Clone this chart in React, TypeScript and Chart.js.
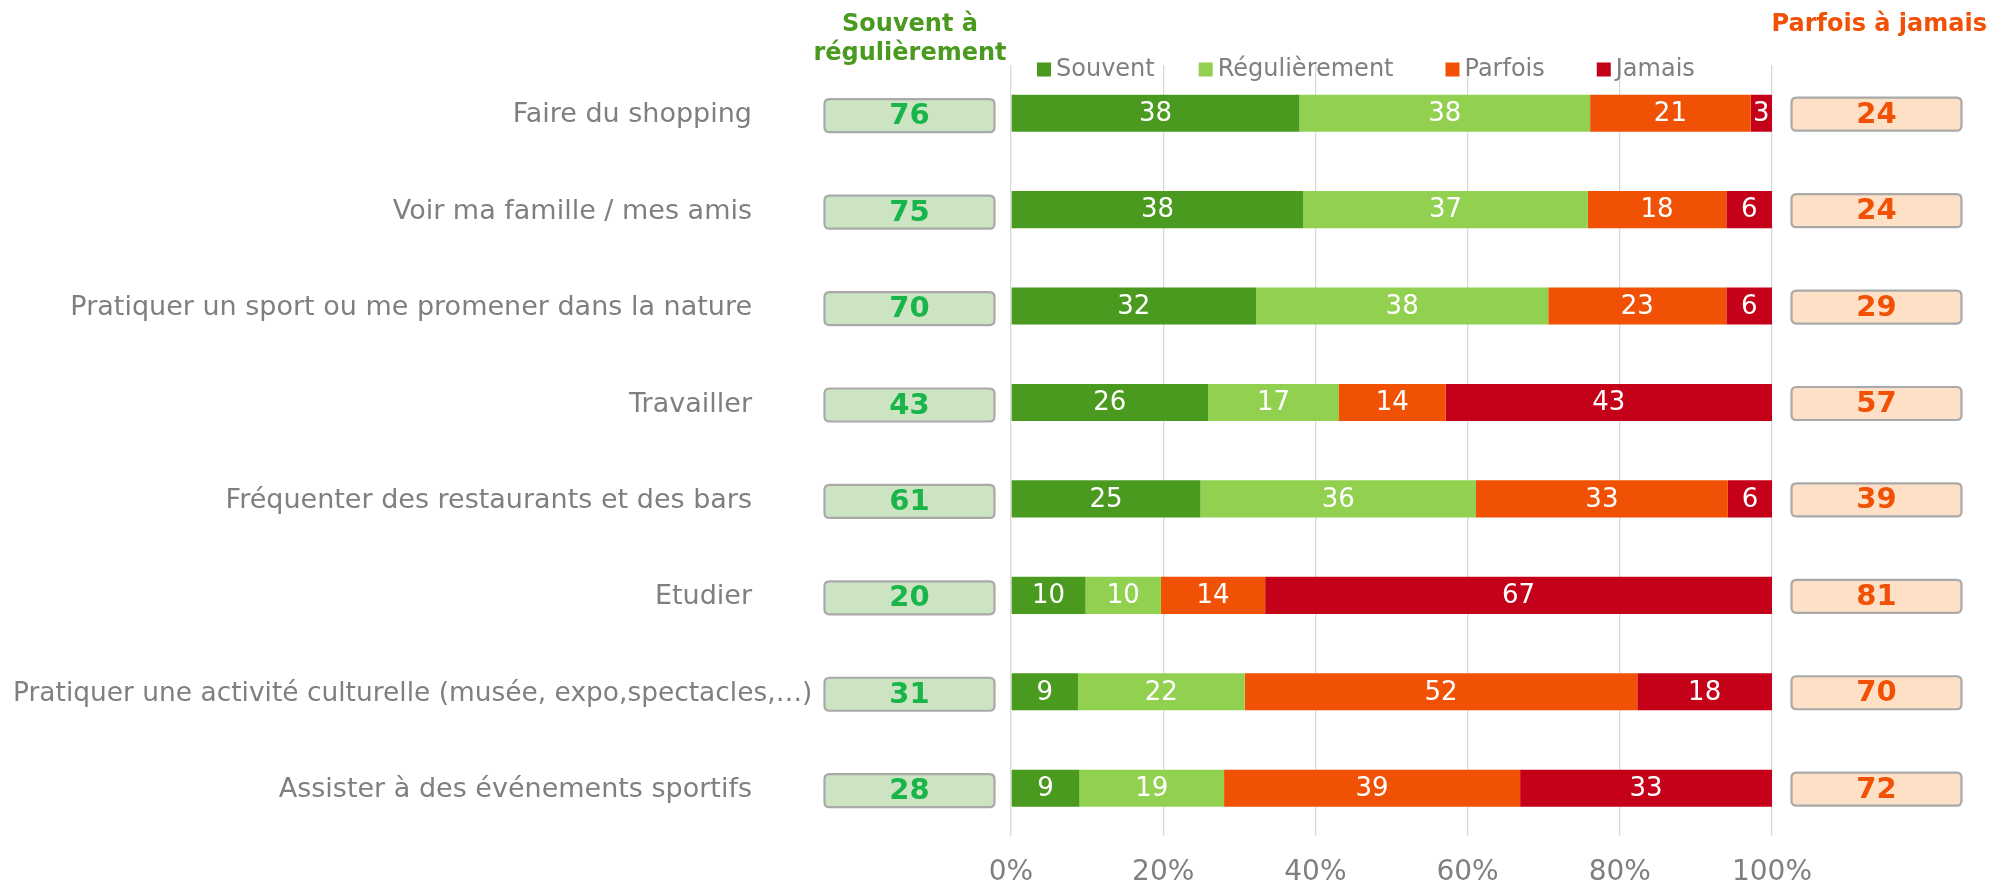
import React, { useEffect, useRef } from "react";
import { Chart, registerables } from "chart.js";

Chart.register(...registerables);

const categories = [
  "Faire du shopping",
  "Voir ma famille / mes amis",
  "Pratiquer un sport ou me promener dans la nature",
  "Travailler",
  "Fréquenter des restaurants et des bars",
  "Etudier",
  "Pratiquer une activité culturelle (musée, expo,spectacles,…)",
  "Assister à des événements sportifs",
];

const seriesNames = ["Souvent", "Régulièrement", "Parfois", "Jamais"];
const souvent = [37.9, 38.4, 32.2, 25.9, 24.9, 9.8, 8.8, 9.0];
const regulierement = [38.2, 37.4, 38.4, 17.2, 36.2, 9.9, 21.9, 19.0];
const parfois = [21.1, 18.2, 23.4, 14.0, 33.1, 13.7, 51.6, 38.9];
const jamais = [2.8, 6.0, 6.0, 42.9, 5.8, 66.6, 17.7, 33.1];

const souventARegulierement = [76, 75, 70, 43, 61, 20, 31, 28];
const parfoisAJamais = [24, 24, 29, 57, 39, 81, 70, 72];

const xTickLabels = ["0%", "20%", "40%", "60%", "80%", "100%"];

const titleLeft = ["Souvent à", "régulièrement"];
const titleRight = "Parfois à jamais";

const COLORS = ["#4A9A1F", "#92D050", "#F15105", "#C50019"];
const FONT = "'DejaVu Sans', Verdana, sans-serif";
const GRAY = "#7F7F7F";

function roundRect(ctx: CanvasRenderingContext2D, x: number, y: number, w: number, h: number, r: number) {
  ctx.beginPath();
  ctx.moveTo(x + r, y);
  ctx.lineTo(x + w - r, y);
  ctx.quadraticCurveTo(x + w, y, x + w, y + r);
  ctx.lineTo(x + w, y + h - r);
  ctx.quadraticCurveTo(x + w, y + h, x + w - r, y + h);
  ctx.lineTo(x + r, y + h);
  ctx.quadraticCurveTo(x, y + h, x, y + h - r);
  ctx.lineTo(x, y + r);
  ctx.quadraticCurveTo(x, y, x + r, y);
  ctx.closePath();
}

const overlayPlugin = {
  id: "overlay",
  afterDatasetsDraw(chart: any) {
    const ctx: CanvasRenderingContext2D = chart.ctx;
    ctx.save();
    ctx.font = `26px ${FONT}`;
    ctx.fillStyle = "#FFFFFF";
    ctx.textAlign = "center";
    ctx.textBaseline = "middle";
    chart.data.datasets.forEach((ds: any, di: number) => {
      const meta = chart.getDatasetMeta(di);
      meta.data.forEach((el: any, i: number) => {
        const v = ds.data[i];
        const p = el.getCenterPoint();
        ctx.fillText(String(Math.round(v)), p.x, p.y + 1);
      });
    });
    ctx.restore();
  },
  afterDraw(chart: any) {
    const ctx: CanvasRenderingContext2D = chart.ctx;
    const area = chart.chartArea;
    const yScale = chart.scales.y;
    ctx.save();

    // Legend
    ctx.font = `24px ${FONT}`;
    ctx.textBaseline = "middle";
    ctx.textAlign = "left";
    let lx = area.left + 26;
    const ly = 69.5;
    const gaps = [44, 52, 52, 0];
    seriesNames.forEach((name, i) => {
      ctx.fillStyle = COLORS[i];
      ctx.fillRect(lx, ly - 7, 14, 14);
      lx += 19;
      ctx.fillStyle = GRAY;
      ctx.fillText(name, lx, ly);
      lx += ctx.measureText(name).width + gaps[i];
    });

    // Titles
    ctx.font = `bold 24px ${FONT}`;
    ctx.fillStyle = COLORS[0];
    ctx.textAlign = "center";
    ctx.fillText(titleLeft[0], 910, 25);
    ctx.fillText(titleLeft[1], 910, 54);
    ctx.fillStyle = COLORS[2];
    ctx.textAlign = "right";
    ctx.fillText(titleRight, 1987, 25);

    // Category labels
    const boxW = 170;
    const boxH = 33;
    const greenLeft = area.left - 16.5 - boxW;
    const leftMargin = 13;
    const maxRight = greenLeft - 12;
    ctx.fillStyle = GRAY;
    ctx.textAlign = "right";
    categories.forEach((c, i) => {
      const y = yScale.getPixelForValue(i) + 2;
      let size = 27;
      ctx.font = `${size}px ${FONT}`;
      let w = ctx.measureText(c).width;
      if (leftMargin + w > maxRight) {
        size = (size * (maxRight - leftMargin)) / w;
        ctx.font = `${size}px ${FONT}`;
        w = ctx.measureText(c).width;
      }
      const xr = Math.max(752, leftMargin + w);
      ctx.fillText(c, xr, y);
    });

    // Boxes
    categories.forEach((_, i) => {
      const y = yScale.getPixelForValue(i) + 2.5;
      // left (green)
      const gx = greenLeft;
      roundRect(ctx, gx, y - boxH / 2, boxW, boxH, 5);
      ctx.fillStyle = "#CDE4C3";
      ctx.fill();
      ctx.lineWidth = 2.2;
      ctx.strokeStyle = "#A9A9A9";
      ctx.stroke();
      ctx.font = `bold 29px ${FONT}`;
      ctx.fillStyle = "#19B54A";
      ctx.textAlign = "center";
      ctx.fillText(String(souventARegulierement[i]), gx + boxW / 2, y + 1);
      // right (orange)
      const ox = area.right + 19.5;
      roundRect(ctx, ox, y - 1.5 - boxH / 2, boxW, boxH, 5);
      ctx.fillStyle = "#FDE0C5";
      ctx.fill();
      ctx.strokeStyle = "#A9A9A9";
      ctx.stroke();
      ctx.fillStyle = "#F15105";
      ctx.fillText(String(parfoisAJamais[i]), ox + boxW / 2, y - 0.5);
    });

    ctx.restore();
  },
};

export default function App() {
  const canvasRef = useRef<HTMLCanvasElement | null>(null);

  useEffect(() => {
    if (!canvasRef.current) return;
    const seriesData = [souvent, regulierement, parfois, jamais];
    const chart = new Chart(canvasRef.current, {
      type: "bar",
      data: {
        labels: categories,
        datasets: seriesData.map((d, i) => ({
          label: seriesNames[i],
          data: d,
          backgroundColor: COLORS[i],
          borderWidth: 0,
          barPercentage: 0.385,
          categoryPercentage: 1,
        })),
      },
      options: {
        indexAxis: "y",
        responsive: false,
        animation: false,
        devicePixelRatio: 1,
        layout: { padding: { left: 1011, right: 218, top: 65, bottom: 8 } },
        plugins: {
          legend: { display: false },
          tooltip: { enabled: false },
          title: { display: false },
        },
        scales: {
          x: {
            stacked: true,
            min: 0,
            max: 100,
            grid: { color: "#D9D9D9", lineWidth: 1.3, drawTicks: false },
            border: { display: false },
            ticks: {
              stepSize: 20,
              color: GRAY,
              padding: 20,
              font: { family: FONT, size: 28 },
              callback: (_v: any, idx: number) => xTickLabels[idx],
            },
          },
          y: {
            stacked: true,
            display: false,
          },
        },
      },
      plugins: [overlayPlugin],
    });
    return () => chart.destroy();
  }, []);

  return (
    <div
      style={{
        position: "fixed",
        left: 0,
        top: 0,
        width: 1990,
        height: 880,
        overflow: "hidden",
        background: "#FFFFFF",
      }}
    >
      <canvas ref={canvasRef} width={1990} height={918} style={{ display: "block" }} />
    </div>
  );
}
